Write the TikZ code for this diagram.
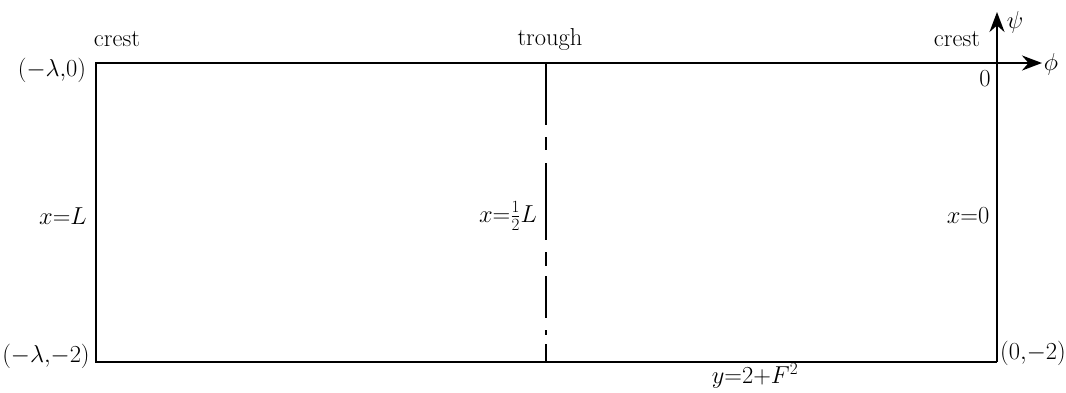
\RequirePackage{fix-cm}
\documentclass[tikz,border=0pt]{standalone}
\usetikzlibrary{arrows.meta,calc}
\begin{document}
\begin{tikzpicture}[x=1pt,y=-1pt,
  edge/.style={line width=2.2pt,line join=miter},
  axis/.style={line width=2.2pt,-{Stealth[length=20pt,width=15pt]}},
  lbl/.style={inner sep=0pt,font=\fontsize{24.5}{28}\selectfont},
  chain/.style={line width=2.2pt}]
\useasboundingbox (0,0) rectangle (1066,392);
% corners
\coordinate (TL) at (96,63);
\coordinate (BL) at (96,362);
\coordinate (BR) at (997,362);
\coordinate (TR) at (997,63);
\coordinate (MT) at (546,63);
\coordinate (MB) at (546,362);
\coordinate (phiEnd) at (1042,63);
\coordinate (psiEnd) at (997,12);
% box
\draw[edge] (TR) -- (TL) -- (BL) -- (BR);
\draw[axis] (TL) -- (phiEnd);
\draw[axis] (BR) -- (psiEnd);
% chain line
\draw[chain] (MT) -- ($(MT)+(0,62)$);
\draw[chain] (546,137) -- (546,150);
\draw[chain] (546,163) -- (546,240);
\draw[chain] (546,252) -- (546,266);
\draw[chain] (546,276) -- (546,318);
\draw[chain] (546,330) -- (546,335);
\draw[chain] (546,344) -- (MB);
% labels
\node[lbl] (c1) at (117,39) {crest};
\node[lbl] (tr) at (550,39) {trough};
\node[lbl] (c2) at (957,39) {crest};
\node[lbl] (psi) at (1015,22) {$\psi$};
\node[lbl] (phi) at (1051,64) {$\phi$};
\node[lbl] (zero) at (985,79) {$0$};
\node[lbl] (tl) at (52,70) {$(-\lambda{,}0)$};
\node[lbl] (bl) at (46,356) {$(-\lambda{,}{-}2)$};
\node[lbl] (br) at (1033,353) {$(0{,}{-}2)$};
\node[lbl] (xL) at (63,216) {$x{=}L$};
\node[lbl] (xh) at (508,216) {$x{=}\frac12L$};
\node[lbl] (x0) at (968,216) {$x{=}0$};
\node[lbl] (yF) at (755,376) {$y{=}2{+}F^2$};
\end{tikzpicture}
\end{document}
